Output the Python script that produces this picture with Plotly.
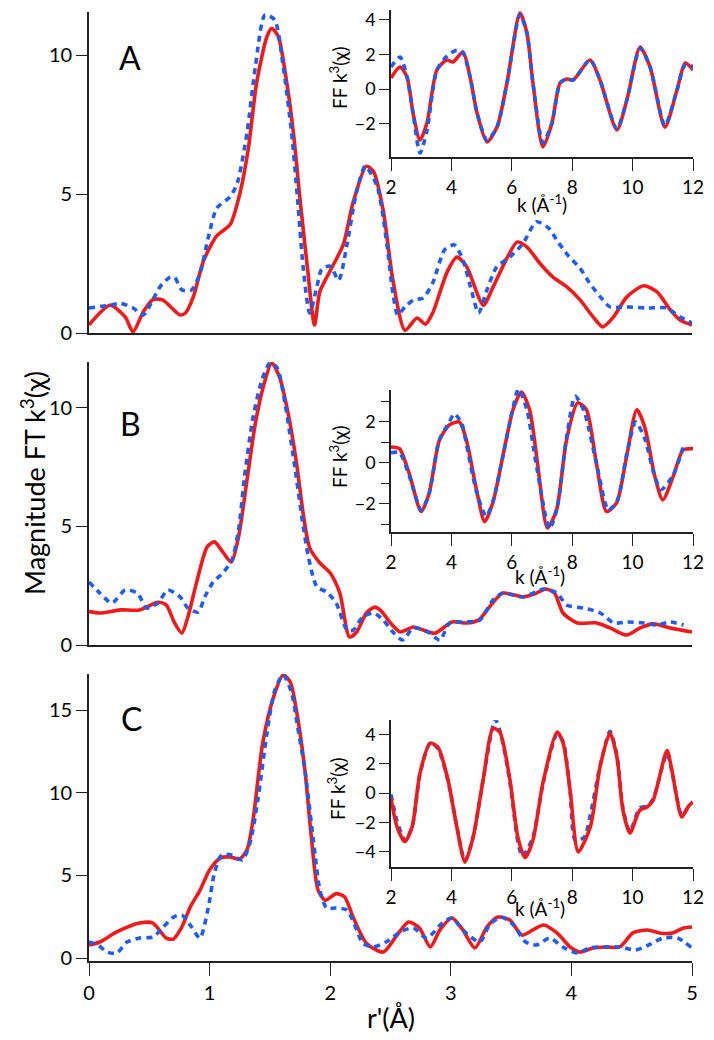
import plotly.graph_objects as go

# ---------------- data ----------------
# Panel A (main, magnitude FT vs r')
rA_red = [0, 0.175, 0.30, 0.365, 0.45, 0.53, 0.61, 0.755, 0.80, 0.865, 0.95, 1.06, 1.17, 1.25, 1.32, 1.39, 1.475, 1.515, 1.57, 1.64, 1.695, 1.75, 1.81, 1.87, 1.915, 2.02, 2.11, 2.19, 2.30, 2.36, 2.44, 2.52, 2.62, 2.72, 2.79, 2.85, 2.97, 3.05, 3.13, 3.27, 3.35, 3.47, 3.55, 3.63, 3.74, 3.85, 3.96, 4.07, 4.18, 4.26, 4.35, 4.46, 4.6, 4.71, 4.82, 4.90, 5.0]
yA_red = [0.29, 1.0, 0.58, 0.04, 0.76, 1.2, 1.19, 0.65, 0.72, 1.3, 2.6, 3.5, 3.9, 5.0, 6.6, 9.0, 10.66, 10.96, 10.66, 9.0, 7.2, 4.8, 2.4, 0.29, 1.5, 2.4, 3.2, 4.7, 6.0, 5.8, 4.4, 1.9, 0.1, 0.54, 0.32, 0.72, 2.2, 2.73, 2.4, 1.0, 1.65, 2.73, 3.27, 3.1, 2.5, 2.0, 1.67, 1.2, 0.58, 0.22, 0.58, 1.3, 1.7, 1.48, 0.83, 0.47, 0.29]
rA_blue = [0, 0.175, 0.26, 0.365, 0.45, 0.53, 0.59, 0.67, 0.71, 0.77, 0.85, 0.92, 0.99, 1.06, 1.17, 1.23, 1.31, 1.38, 1.46, 1.54, 1.61, 1.68, 1.73, 1.775, 1.83, 1.89, 1.93, 2.0, 2.07, 2.14, 2.21, 2.29, 2.39, 2.47, 2.52, 2.56, 2.62, 2.69, 2.77, 2.85, 2.95, 3.03, 3.10, 3.17, 3.23, 3.30, 3.38, 3.49, 3.60, 3.71, 3.81, 3.89, 3.97, 4.07, 4.15, 4.24, 4.32, 4.46, 4.63, 4.79, 4.90, 5.0]
yA_blue = [0.9, 1.0, 1.07, 0.9, 0.65, 1.2, 1.67, 2.0, 2.0, 1.55, 1.55, 2.15, 3.45, 4.5, 4.9, 5.4, 7.2, 9.6, 11.45, 11.26, 9.6, 7.2, 4.8, 2.4, 0.72, 1.67, 2.3, 2.4, 1.9, 3.2, 4.9, 6.0, 5.27, 3.2, 1.44, 0.65, 0.94, 1.19, 1.26, 1.8, 3.0, 3.17, 2.63, 1.55, 0.72, 1.55, 2.37, 2.73, 3.23, 4.0, 3.78, 3.27, 2.8, 2.34, 1.8, 1.3, 0.94, 0.94, 0.9, 0.9, 0.58, 0.36]

# Panel B
rB_red = [0, 0.09, 0.26, 0.42, 0.57, 0.64, 0.71, 0.77, 0.82, 0.89, 0.98, 1.04, 1.11, 1.18, 1.24, 1.31, 1.38, 1.445, 1.515, 1.58, 1.65, 1.72, 1.78, 1.83, 1.915, 2.0, 2.08, 2.16, 2.22, 2.3, 2.37, 2.42, 2.5, 2.58, 2.69, 2.77, 2.87, 3.01, 3.13, 3.23, 3.32, 3.43, 3.60, 3.71, 3.79, 3.86, 3.93, 4.05, 4.21, 4.32, 4.46, 4.57, 4.68, 4.82, 5.0]
yB_red = [1.41, 1.35, 1.48, 1.48, 1.8, 1.69, 0.93, 0.5, 1.18, 2.6, 4.14, 4.35, 3.92, 3.5, 4.56, 6.96, 9.37, 10.9, 11.9, 11.3, 9.8, 7.7, 5.4, 4.1, 3.46, 3.04, 2.19, 0.34, 0.55, 1.35, 1.6, 1.45, 0.93, 0.55, 0.76, 0.63, 0.5, 0.97, 0.93, 1.05, 1.6, 2.19, 2.03, 2.19, 2.36, 2.19, 1.35, 0.93, 0.93, 0.72, 0.42, 0.72, 0.89, 0.72, 0.55]
rB_blue = [0, 0.09, 0.19, 0.30, 0.40, 0.48, 0.57, 0.655, 0.755, 0.82, 0.905, 0.96, 1.03, 1.11, 1.185, 1.24, 1.29, 1.36, 1.435, 1.5, 1.56, 1.625, 1.71, 1.765, 1.82, 1.89, 1.97, 2.05, 2.14, 2.19, 2.27, 2.36, 2.44, 2.51, 2.6, 2.69, 2.81, 2.91, 2.99, 3.13, 3.24, 3.35, 3.43, 3.6, 3.77, 3.88, 3.96, 4.1, 4.24, 4.35, 4.46, 4.60, 4.71, 4.82, 4.93]
yB_blue = [2.66, 2.19, 1.77, 2.32, 2.19, 1.56, 1.77, 2.32, 2.03, 1.56, 1.39, 2.03, 2.66, 3.04, 3.59, 4.85, 7.1, 9.6, 11.2, 11.9, 11.7, 10.2, 7.4, 5.4, 3.7, 2.45, 2.24, 1.77, 0.63, 0.63, 1.18, 1.35, 1.05, 0.6, 0.21, 0.72, 0.55, 0.21, 0.93, 0.97, 1.05, 1.9, 2.19, 2.03, 2.36, 2.19, 1.69, 1.56, 1.35, 0.93, 0.97, 0.93, 0.84, 0.97, 0.84]

# Panel C
rC_red = [0, 0.09, 0.23, 0.42, 0.53, 0.64, 0.70, 0.77, 0.84, 0.92, 1.0, 1.09, 1.17, 1.25, 1.31, 1.36, 1.44, 1.53, 1.61, 1.67, 1.72, 1.79, 1.84, 1.90, 1.96, 2.05, 2.12, 2.19, 2.30, 2.44, 2.55, 2.65, 2.74, 2.83, 2.91, 3.01, 3.10, 3.20, 3.30, 3.39, 3.49, 3.59, 3.68, 3.77, 3.88, 3.99, 4.07, 4.18, 4.29, 4.40, 4.51, 4.63, 4.73, 4.84, 4.93, 5.0]
yC_red = [0.79, 0.97, 1.58, 2.12, 2.12, 1.21, 1.15, 1.88, 3.09, 4.1, 5.33, 6.06, 6.12, 6.0, 6.55, 8.36, 13.0, 15.8, 17.15, 16.7, 15.0, 11.4, 7.6, 4.1, 3.5, 3.9, 3.7, 2.48, 0.9, 0.36, 1.35, 2.18, 1.82, 0.67, 1.7, 2.42, 1.7, 0.61, 1.88, 2.48, 2.3, 1.39, 1.7, 2.0, 1.52, 0.67, 0.36, 0.61, 0.67, 0.67, 1.52, 1.7, 1.52, 1.52, 1.82, 1.88]
rC_blue = [0, 0.075, 0.15, 0.23, 0.315, 0.42, 0.53, 0.61, 0.70, 0.77, 0.85, 0.92, 0.99, 1.04, 1.10, 1.18, 1.27, 1.335, 1.40, 1.475, 1.54, 1.61, 1.68, 1.73, 1.79, 1.86, 1.915, 1.97, 2.05, 2.14, 2.22, 2.27, 2.36, 2.47, 2.58, 2.69, 2.80, 2.93, 3.01, 3.10, 3.24, 3.32, 3.42, 3.52, 3.62, 3.71, 3.82, 3.93, 4.05, 4.15, 4.29, 4.40, 4.53, 4.64, 4.76, 4.88, 5.0]
yC_blue = [0.97, 0.79, 0.36, 0.30, 0.97, 1.21, 1.27, 1.82, 2.48, 2.6, 1.88, 1.21, 3.09, 5.15, 6.24, 6.24, 5.94, 6.97, 9.58, 13.6, 16.2, 17.15, 16.06, 14.0, 11.4, 7.15, 4.1, 3.03, 3.03, 2.9, 1.7, 0.9, 0.67, 1.0, 1.58, 1.82, 1.21, 2.12, 2.42, 1.7, 0.97, 2.0, 2.48, 2.0, 0.97, 0.79, 1.21, 0.67, 0.3, 0.61, 0.67, 0.67, 0.48, 0.79, 1.21, 1.21, 0.61]

# Insets: Fourier-filtered k^3 chi vs k
kA_red = [2, 2.3, 2.53, 2.73, 2.96, 3.19, 3.52, 3.85, 4.05, 4.38, 4.62, 4.85, 5.18, 5.51, 5.84, 6.27, 6.5, 6.7, 7.03, 7.33, 7.6, 7.83, 8.03, 8.59, 8.92, 9.48, 9.81, 10.25, 10.58, 11.07, 11.47, 11.74, 12]
iA_red = [0.64, 1.27, 0.69, -1.39, -2.95, -1.97, 1.1, 1.68, 1.56, 2.14, 0.69, -1.39, -3.06, -2.2, 0.35, 4.39, 3.24, 0.35, -3.35, -1.97, 0.35, 0.58, 0.52, 1.68, 0.52, -2.37, -0.64, 2.43, 1.27, -2.2, -0.06, 1.5, 1.1]
kA_blue = [2, 2.3, 2.53, 2.73, 2.96, 3.19, 3.52, 3.85, 4.18, 4.38, 4.62, 4.85, 5.18, 5.51, 5.84, 6.27, 6.5, 6.7, 7.03, 7.33, 7.6, 7.83, 8.03, 8.59, 8.92, 9.48, 9.81, 10.25, 10.58, 11.07, 11.47, 11.74, 12]
iA_blue = [1.27, 1.85, 0.7, -1.4, -3.7, -2.4, 1.1, 1.9, 2.25, 2.1, 0.69, -1.39, -2.95, -2.2, 0.35, 4.3, 3.24, 0.35, -3.1, -1.97, 0.35, 0.58, 0.52, 1.68, 0.52, -2.3, -0.64, 2.35, 1.27, -2.1, -0.06, 1.4, 1.3]

kB_red = [2, 2.28, 2.6, 3.0, 3.26, 3.6, 3.93, 4.26, 4.5, 4.83, 5.1, 5.37, 5.7, 6.04, 6.32, 6.59, 6.85, 7.18, 7.48, 7.81, 8.18, 8.47, 8.8, 9.14, 9.47, 9.8, 10.14, 10.4, 10.74, 11.0, 11.34, 11.67, 12]
iB_red = [0.78, 0.7, -0.5, -2.37, -1.5, 1.1, 1.85, 2.0, 1.1, -1.3, -2.87, -1.95, 0.3, 2.6, 3.46, 2.6, 0, -3.17, -2.3, 1.1, 2.93, 2.6, 0, -2.37, -1.95, 0.3, 2.6, 1.76, -0.68, -1.8, -0.68, 0.63, 0.7]
kB_blue = [2, 2.28, 2.6, 3.0, 3.26, 3.6, 3.93, 4.1, 4.35, 4.5, 4.83, 5.15, 5.37, 5.7, 6.04, 6.22, 6.5, 6.8, 7.25, 7.5, 7.81, 8.1, 8.4, 8.8, 9.2, 9.5, 9.8, 10.1, 10.4, 10.74, 10.95, 11.34, 11.67]
iB_blue = [0.5, 0.5, -0.6, -2.3, -1.5, 1.1, 2.0, 2.4, 1.9, 0.9, -1.4, -2.6, -1.9, 0.3, 2.7, 3.6, 2.6, 0, -3.2, -2.2, 1.2, 3.25, 2.5, 0, -2.3, -1.8, 0.4, 2.0, 1.2, -0.7, -1.3, -0.6, 0.75]

kC_red = [2, 2.2, 2.46, 2.7, 2.96, 3.3, 3.56, 3.89, 4.18, 4.45, 4.72, 5.05, 5.38, 5.6, 5.94, 6.2, 6.44, 6.7, 7.03, 7.5, 7.7, 7.93, 8.2, 8.6, 8.92, 9.25, 9.48, 9.68, 9.91, 10.24, 10.48, 10.68, 11.14, 11.3, 11.63, 11.83, 12]
iC_red = [-0.35, -2.3, -3.3, -2.3, 1.36, 3.4, 3.1, 0.88, -2.3, -4.7, -3.0, 0.88, 4.4, 4.15, 0.88, -3.0, -4.4, -3.2, 0.68, 4.15, 3.4, 0.2, -4.0, -2.3, 1.77, 4.08, 2.45, -1.16, -2.72, -1.16, -0.95, -0.48, 2.9, 1.56, -1.63, -0.95, -0.6]
kC_blue = [2, 2.2, 2.46, 2.7, 2.96, 3.3, 3.56, 3.89, 4.18, 4.45, 4.72, 5.05, 5.45, 5.65, 5.94, 6.2, 6.35, 6.7, 7.03, 7.5, 7.7, 7.93, 8.1, 8.4, 8.6, 8.92, 9.25, 9.48, 9.68, 9.91, 10.24, 10.48, 10.68, 11.14, 11.3, 11.63, 11.83]
iC_blue = [-0.1, -1.9, -3.2, -2.3, 1.3, 3.4, 3.0, 0.8, -2.3, -4.6, -3.0, 0.9, 5.0, 3.9, 0.7, -3.3, -4.3, -3.0, 0.6, 4.0, 3.5, 0.1, -3.2, -3.0, -1.5, 1.8, 4.2, 2.6, -1.0, -2.6, -1.0, -0.9, -0.4, 2.7, 1.5, -1.5, -1.0]

panel_labels = ["A", "B", "C"]
main_ytitle = "Magnitude FT k<sup>3</sup>(χ)"
main_xtitle = "r'(Å)"
inset_ytitle = "FF k<sup>3</sup>(χ)"
inset_xtitle = "k (Å<sup>-1</sup>)"

# ---------------- style ----------------
# The page body has an 8px default margin, so the figure is placed 8px in.
OFF = 8
W, H = 714 - OFF, 1040 - OFF
RED = "#f01a1a"
BLUE = "#1f5cf0"
FONT = "Lato, 'Open Sans', sans-serif"
LW = 3.6
DASH = "6px,5px"

def px(x):
    return (x - OFF) / W

def py(y):
    return 1 - (y - OFF) / H

fig = go.Figure()

def add(xs, ys, color, dash, xa, ya):
    fig.add_trace(go.Scatter(
        x=xs, y=ys, mode="lines",
        line=dict(color=color, width=LW, dash=dash, shape="spline", smoothing=0.7),
        xaxis=xa, yaxis=ya, showlegend=False, hoverinfo="skip"))

# main panels
add(rA_red, yA_red, RED, "solid", "x", "y")
add(rA_blue, yA_blue, BLUE, DASH, "x", "y")
add(rB_red, yB_red, RED, "solid", "x2", "y2")
add(rB_blue, yB_blue, BLUE, DASH, "x2", "y2")
add(rC_red, yC_red, RED, "solid", "x3", "y3")
add(rC_blue, yC_blue, BLUE, DASH, "x3", "y3")
# insets
add(kA_red, iA_red, RED, "solid", "x4", "y4")
add(kA_blue, iA_blue, BLUE, DASH, "x4", "y4")
add(kB_red, iB_red, RED, "solid", "x5", "y5")
add(kB_blue, iB_blue, BLUE, DASH, "x5", "y5")
add(kC_blue, iC_blue, BLUE, DASH, "x6", "y6")
add(kC_red, iC_red, RED, "solid", "x6", "y6")

AXCOL = "#222222"
main_xdom = [px(89), px(692)]
inset_xdom = [px(391), px(693)]

def xaxis_main(anchor, show_ticks):
    d = dict(domain=main_xdom, range=[0, 5], anchor=anchor, showgrid=False, zeroline=False,
             showline=True, linecolor=AXCOL, linewidth=1.6, mirror=False, automargin=False,
             tickfont=dict(family=FONT, size=20, color="black"))
    if show_ticks:
        d.update(ticks="outside", ticklen=13, tickwidth=1.4, tickcolor=AXCOL, dtick=1, tick0=0,
                 showticklabels=True)
    else:
        d.update(ticks="", showticklabels=False)
    return d

def yaxis_main(anchor, dom, rng, dtick):
    return dict(domain=dom, range=rng, anchor=anchor, showgrid=False, zeroline=False,
                showline=True, linecolor=AXCOL, linewidth=1.6, ticks="outside", ticklen=11,
                tickwidth=1.4, tickcolor=AXCOL, dtick=dtick, tick0=0, automargin=False,
                tickfont=dict(family=FONT, size=20, color="black"))

def xaxis_inset(anchor):
    return dict(domain=inset_xdom, range=[2, 12], anchor=anchor, showgrid=False, zeroline=False,
                showline=True, linecolor=AXCOL, linewidth=1.6, ticks="outside", ticklen=12,
                tickwidth=1.4, tickcolor=AXCOL, dtick=2, tick0=0, automargin=False,
                tickfont=dict(family=FONT, size=19, color="black"))

def yaxis_inset(anchor, dom, rng, minor=False):
    d = dict(domain=dom, range=rng, anchor=anchor, showgrid=False, zeroline=False,
             showline=True, linecolor=AXCOL, linewidth=1.6, ticks="outside", ticklen=10,
             tickwidth=1.4, tickcolor=AXCOL, dtick=2, tick0=0, automargin=False,
             tickfont=dict(family=FONT, size=18, color="black"))
    if minor:
        d["minor"] = dict(dtick=1, tick0=0, ticks="outside", ticklen=8, tickwidth=1.2, tickcolor=AXCOL)
    return d

fig.update_layout(
    width=W, height=H, margin=dict(l=0, r=0, t=0, b=0),
    paper_bgcolor="white", plot_bgcolor="rgba(0,0,0,0)",
    xaxis=xaxis_main("y", False),
    yaxis=yaxis_main("x", [py(333), py(12)], [0, 11.55], 5),
    xaxis2=xaxis_main("y2", False),
    yaxis2=yaxis_main("x2", [py(645), py(362)], [0, 11.94], 5),
    xaxis3=xaxis_main("y3", True),
    yaxis3=yaxis_main("x3", [py(961), py(674)], [-0.18, 17.2], 5),
    xaxis4=xaxis_inset("y4"),
    yaxis4=yaxis_inset("x4", [py(157), py(10)], [-3.93, 4.57]),
    xaxis5=xaxis_inset("y5"),
    yaxis5=yaxis_inset("x5", [py(532), py(390)], [-3.37, 3.56], minor=True),
    xaxis6=xaxis_inset("y6"),
    yaxis6=yaxis_inset("x6", [py(867), py(720)], [-5.03, 4.97]),
)

annots = []
for lab, (x0, y0) in zip(panel_labels, [(130, 58), (130, 423), (131, 718)]):
    annots.append(dict(text=lab, x=px(x0), y=py(y0), xref="paper", yref="paper",
                       showarrow=False, font=dict(family=FONT, size=32, color="black"),
                       xanchor="center", yanchor="middle"))
annots.append(dict(text=main_ytitle, x=px(33), y=py(483), xref="paper", yref="paper",
                   showarrow=False, textangle=-90, font=dict(family=FONT, size=27, color="black"),
                   xanchor="center", yanchor="middle"))
annots.append(dict(text=main_xtitle, x=px(391), y=py(1017), xref="paper", yref="paper",
                   showarrow=False, font=dict(family=FONT, size=27, color="black"),
                   xanchor="center", yanchor="middle"))
for (ix, iy) in [(338, 78), (338, 457), (336, 789)]:
    annots.append(dict(text=inset_ytitle, x=px(ix), y=py(iy), xref="paper", yref="paper",
                       showarrow=False, textangle=-90, font=dict(family=FONT, size=19, color="black"),
                       xanchor="center", yanchor="middle"))
for (ix, iy) in [(542, 203), (540, 575), (540, 907)]:
    annots.append(dict(text=inset_xtitle, x=px(ix), y=py(iy), xref="paper", yref="paper",
                       showarrow=False, font=dict(family=FONT, size=19, color="black"),
                       xanchor="center", yanchor="middle"))
fig.update_layout(annotations=annots)

fig.write_html("out.html")
